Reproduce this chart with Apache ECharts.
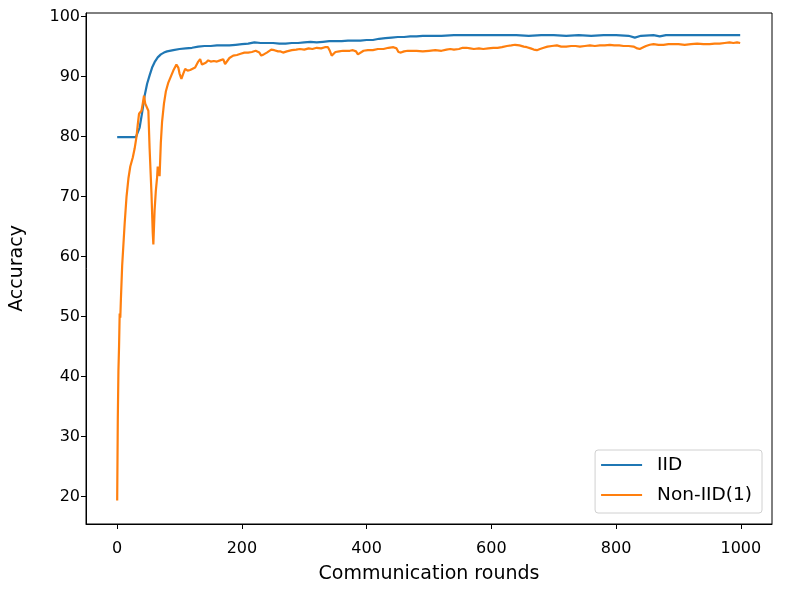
<!DOCTYPE html>
<html>
<head>
<meta charset="utf-8">
<script src="https://cdn.jsdelivr.net/npm/echarts@6/dist/echarts.min.js"></script>
<style>html,body{margin:0;padding:0;background:#fff;}#c{width:785px;height:590px;}</style>
</head>
<body>
<div id="c"></div>
<script>
var xTicks = [0, 200, 400, 600, 800, 1000];
var yTicks = [20, 30, 40, 50, 60, 70, 80, 90, 100];

var iidX = [0,5,10,15,20,25,30,33,36,40,44,48,52,56,60,65,70,75,80,90,100,110,120,130,140,150,160,170,180,190,200,210,220,230,240,250,260,270,280,290,300,310,320,330,340,350,360,370,380,390,400,410,420,430,440,450,460,470,480,490,500,520,540,560,580,600,620,640,660,680,700,720,740,760,780,800,820,830,840,860,870,880,900,920,940,960,980,999];
var iidY = [79.9,79.9,79.9,79.9,79.9,79.9,79.9,80.2,81.5,84,86.8,88.8,90.2,91.5,92.4,93.2,93.7,94.0,94.2,94.4,94.6,94.7,94.8,95.0,95.1,95.1,95.2,95.2,95.2,95.3,95.4,95.5,95.7,95.6,95.6,95.6,95.5,95.5,95.6,95.6,95.7,95.8,95.7,95.8,95.9,95.9,95.9,96.0,96.0,96.0,96.1,96.1,96.3,96.4,96.5,96.6,96.6,96.7,96.7,96.8,96.8,96.8,96.9,96.9,96.9,96.9,96.9,96.9,96.8,96.9,96.9,96.8,96.9,96.8,96.9,96.9,96.8,96.5,96.8,96.9,96.7,96.9,96.9,96.9,96.9,96.9,96.9,96.9];

var nonX = [0,1,2,3,4,5,6,8,10,12,15,18,21,25,28,31,33,35,37,39,41,43,45,47,50,52,55,57,58,60,62,64,65,66,67,68,70,72,75,78,82,86,90,95,98,100,103,106,109,113,117,120,125,130,133,136,138,142,146,150,155,160,165,170,173,176,180,186,192,198,204,210,216,222,228,231,235,240,247,252,258,262,266,272,280,287,293,300,307,313,320,327,333,338,341,344,347,350,356,362,368,373,378,383,386,389,395,402,410,418,427,435,443,448,451,455,460,466,472,480,490,500,510,520,528,534,540,548,554,560,566,572,580,587,595,603,610,617,625,632,638,645,652,657,663,668,673,678,684,690,697,705,712,720,728,735,742,750,758,766,774,782,790,797,805,812,820,828,834,838,842,848,854,860,868,876,884,892,900,910,920,930,940,950,958,966,974,982,988,994,999];
var nonY = [19.3,33,41,45,50.5,49.8,53,58.5,62,65.5,70,73,75,76.5,78,80,82,83.8,83.5,84.3,85.5,86.8,85.5,85.8,84.3,78,70.5,64,62,67.7,71,73.2,75,73.5,74.3,73.4,79,82.5,85.5,87.5,89,90,91,92,91.5,90.5,89.6,90.5,91.3,91.0,91.1,91.0,91.5,92.5,92.9,92.0,91.8,92.3,92.7,92.5,92.6,92.5,92.7,92.9,92.1,92.2,93.1,93.5,93.6,93.8,94.0,94.0,94.1,94.3,94.0,93.5,93.7,94.0,94.5,94.4,94.2,94.2,94.0,94.2,94.4,94.5,94.6,94.5,94.7,94.6,94.8,94.7,94.9,94.9,94.3,93.5,93.8,94.1,94.2,94.3,94.3,94.3,94.4,94.2,93.7,93.9,94.3,94.4,94.4,94.6,94.6,94.8,94.9,94.7,94.1,94.0,94.2,94.3,94.3,94.3,94.2,94.3,94.4,94.3,94.5,94.6,94.5,94.6,94.8,94.8,94.7,94.6,94.7,94.6,94.7,94.8,94.8,94.9,95.1,95.2,95.3,95.2,95.0,94.9,94.7,94.5,94.4,94.6,94.8,95.0,95.1,95.2,95.0,95.0,95.1,95.1,95.0,95.1,95.2,95.1,95.2,95.2,95.3,95.2,95.2,95.1,95.1,95.0,94.7,94.6,94.8,95.1,95.3,95.4,95.3,95.3,95.4,95.4,95.4,95.3,95.4,95.5,95.4,95.4,95.5,95.5,95.6,95.7,95.6,95.7,95.6];

function pairs(xs, ys) { return xs.map(function (x, i) { return [x, ys[i]]; }); }
function plain(v) { return String(v); }

var FONT = 'DejaVu Sans';
var chart = echarts.init(document.getElementById('c'), null, {renderer: 'canvas'});
chart.setOption({
  animation: false,
  backgroundColor: '#fff',
  textStyle: {fontFamily: FONT},
  grid: {left: 86, right: 13, top: 13, bottom: 66, show: true, borderColor: '#000', borderWidth: 1, containLabel: false},
  xAxis: {
    type: 'value', min: -50, max: 1050,
    name: 'Communication rounds', nameLocation: 'middle', nameGap: 41,
    nameTextStyle: {fontSize: 19, color: '#000', fontFamily: FONT},
    axisLine: {show: true, onZero: false, lineStyle: {color: '#000', width: 1}},
    axisTick: {show: true, inside: false, length: 5, customValues: xTicks, lineStyle: {color: '#000'}},
    axisLabel: {show: true, customValues: xTicks, formatter: plain, margin: 17, fontSize: 16, color: '#000', fontFamily: FONT},
    splitLine: {show: false}
  },
  yAxis: {
    type: 'value', min: 15.4, max: 100.6,
    name: 'Accuracy', nameLocation: 'middle', nameGap: 59,
    nameTextStyle: {fontSize: 19, color: '#000', fontFamily: FONT},
    axisLine: {show: true, onZero: false, lineStyle: {color: '#000', width: 1}},
    axisTick: {show: true, inside: false, length: 5, customValues: yTicks, lineStyle: {color: '#000'}},
    axisLabel: {show: true, customValues: yTicks, formatter: plain, margin: 6, fontSize: 16, color: '#000', fontFamily: FONT},
    splitLine: {show: false}
  },
  legend: {
    orient: 'vertical', right: 23, bottom: 77,
    icon: 'rect', itemWidth: 41, itemHeight: 2, itemGap: 10,
    padding: [5, 10, 8, 6],
    backgroundColor: 'rgba(255,255,255,0.8)', borderColor: '#d0d0d0', borderWidth: 1, borderRadius: 3,
    textStyle: {fontSize: 18.5, color: '#000', fontFamily: FONT, lineHeight: 20, padding: [0, 0, 0, 10]},
    data: ['IID', 'Non-IID(1)']
  },
  series: [
    {name: 'IID', type: 'line', data: pairs(iidX, iidY), showSymbol: false, symbol: 'none',
     lineStyle: {color: '#1f77b4', width: 2.2}, itemStyle: {color: '#1f77b4'}},
    {name: 'Non-IID(1)', type: 'line', data: pairs(nonX, nonY), showSymbol: false, symbol: 'none',
     lineStyle: {color: '#ff7f0e', width: 2.2}, itemStyle: {color: '#ff7f0e'}}
  ]
});
</script>
</body>
</html>
